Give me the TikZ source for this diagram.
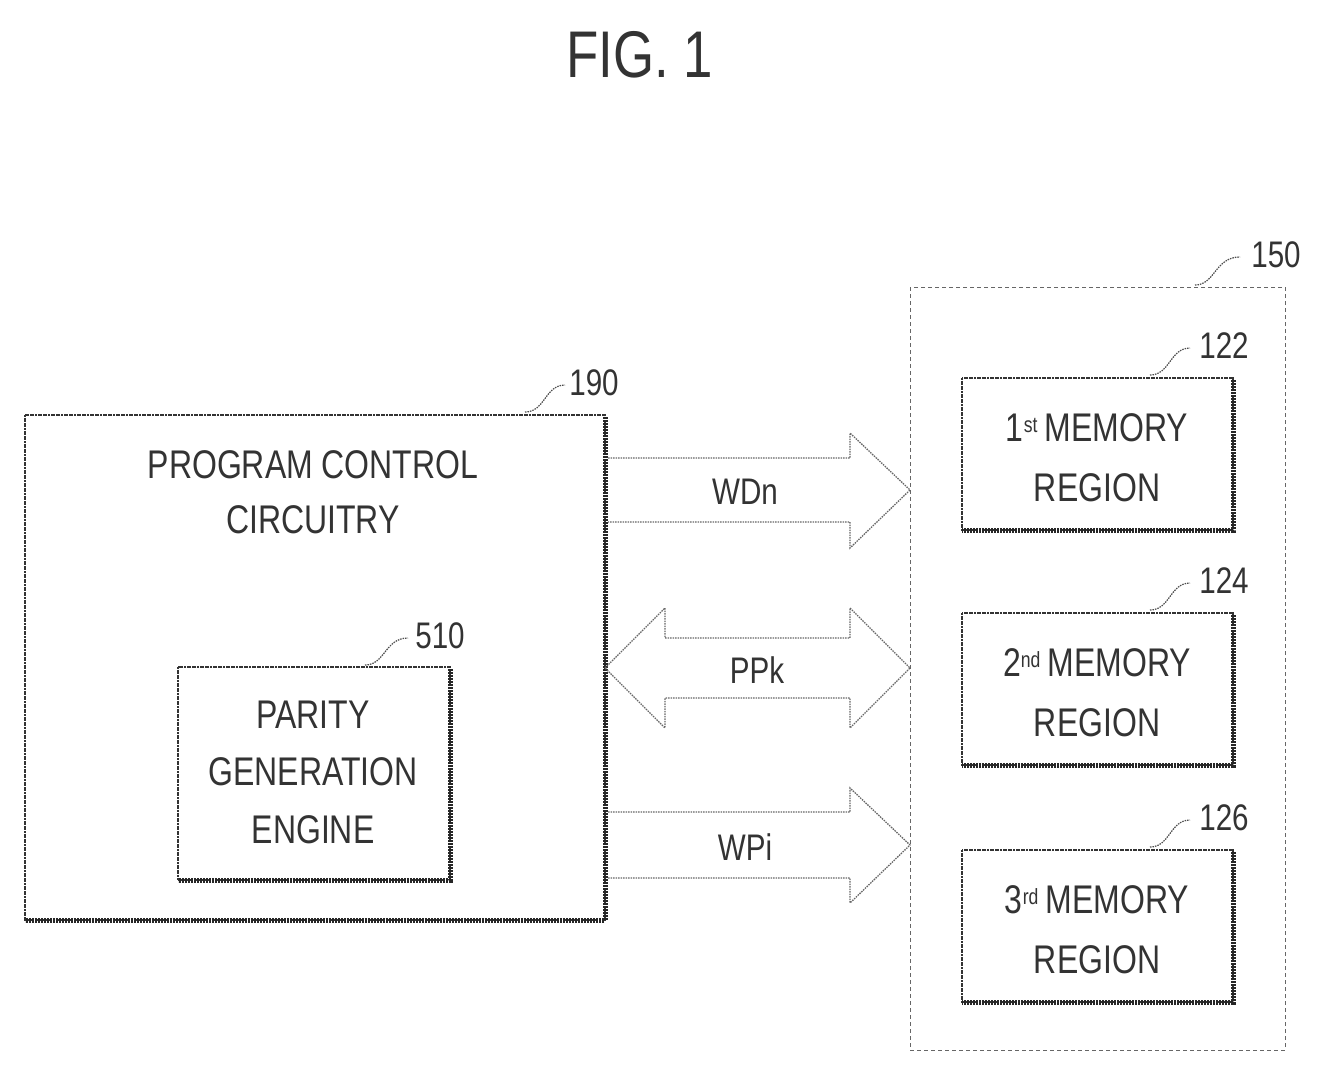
\documentclass[tikz,border=0pt]{standalone}
\usepackage{fontspec}
\setsansfont{Liberation Sans}[FakeStretch=0.8]
\begin{document}
\begin{tikzpicture}[x=1pt,y=-1pt,
  box/.style={draw=black!80,line width=1.6pt,dash pattern=on 2pt off 0.6pt},
  shade/.style={draw=black!85,line width=5pt,dash pattern=on 2pt off 1pt},
  arr/.style={draw=black!60,line width=1.3pt,dash pattern=on 1.5pt off 1pt,line join=miter},
  txt/.style={font=\fontsize{40}{44}\selectfont\sffamily,text=black!80,inner sep=0},
  lbl/.style={font=\fontsize{37}{40}\selectfont\sffamily,text=black!80,inner sep=0},
  lead/.style={draw=black!70,line width=1.2pt,dash pattern=on 1.5pt off 1pt}]
\useasboundingbox (0,0) rectangle (1321,1071);
\node[txt,font=\fontsize{66}{70}\selectfont\sffamily] (title) at (640,55) {FIG. 1};
% 190
\draw[box] (25,415) rectangle (605,920);
\draw[shade] (605,417) -- (605,920) -- (25,920);
\node[lbl] (l190) at (594,383) {190};
\draw[lead] (525,412) .. controls (545,412) and (545,385) .. (565,385);
\node[txt] (t1) at (313,465) {PROGRAM CONTROL};
\node[txt] (t2) at (313,520) {CIRCUITRY};
% 510
\draw[box] (178,667) rectangle (450,880);
\draw[shade] (450,669) -- (450,880) -- (178,880);
\node[lbl] (l510) at (440,636) {510};
\draw[lead] (365,665) .. controls (385,665) and (385,638) .. (408,638);
\node[txt] (t3) at (313,715) {PARITY};
\node[txt] (t4) at (313,772) {GENERATION};
\node[txt] (t5) at (313,830) {ENGINE};
% 150
\draw[draw=black!60,line width=1pt,dash pattern=on 4pt off 3pt] (910,287) rectangle (1285,1050);
\node[lbl] (l150) at (1276,255) {150};
\draw[lead] (1195,285) .. controls (1215,285) and (1215,257) .. (1240,257);
% memory boxes
\foreach \y/\n/\s/\nm in {378/122/st/1,613/124/nd/2,850/126/rd/3}{
  \draw[box] (962,\y) rectangle (1233,\y+152);
  \draw[shade] (1233,\y+2) -- (1233,\y+152) -- (962,\y+152);
  \node[lbl] at (1224,\y-32) {\n};
  \draw[lead] (1150,\y-3) .. controls (1170,\y-3) and (1170,\y-30) .. (1190,\y-30);
  \node[txt] at (1097,\y+50) {\nm\textsuperscript{\fontsize{22}{24}\selectfont\s}\,MEMORY};
  \node[txt] at (1097,\y+110) {REGION};
}
% arrows
\draw[arr] (608,458) -- (850,458) -- (850,433) -- (910,490) -- (850,548) -- (850,522) -- (608,522);
\node[lbl] (wdn) at (745,492) {WDn};
\draw[arr] (605,668) -- (665,608) -- (665,638) -- (850,638) -- (850,608) -- (910,668) -- (850,728) -- (850,698) -- (665,698) -- (665,728) -- cycle;
\node[lbl] (ppk) at (757,670) {PPk};
\draw[arr] (608,812) -- (850,812) -- (850,788) -- (910,845) -- (850,903) -- (850,878) -- (608,878);
\node[lbl] (wpi) at (745,847) {WPi};
\end{tikzpicture}
\end{document}
